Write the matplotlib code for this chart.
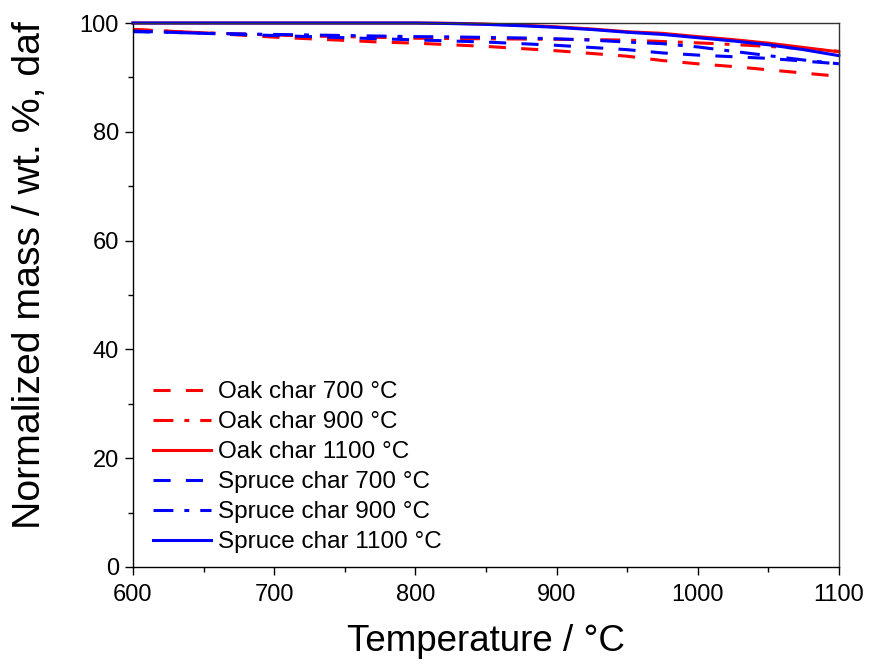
import matplotlib
matplotlib.use("Agg")
import matplotlib.pyplot as plt
from matplotlib.ticker import MultipleLocator

plt.rcParams['font.family'] = ['Liberation Sans', 'DejaVu Sans']

temperature = [600, 625, 650, 675, 700, 725, 750, 775, 800, 825, 850,
               875, 900, 925, 950, 975, 1000, 1025, 1050, 1075, 1100]

oak_700 = [98.8, 98.5, 98.2, 97.8, 97.4, 97.1, 96.8, 96.5, 96.3, 96.0, 95.7,
           95.3, 94.9, 94.4, 93.9, 93.1, 92.5, 92.0, 91.4, 90.8, 90.2]
oak_900 = [98.8, 98.5, 98.2, 98.0, 97.8, 97.6, 97.5, 97.35, 97.2, 97.15, 97.1,
           97.05, 97.0, 96.95, 96.85, 96.6, 96.35, 96.05, 95.7, 95.3, 94.8]
oak_1100 = [100.0, 100.0, 100.0, 100.0, 100.0, 100.0, 100.0, 100.0, 100.0, 99.95, 99.8,
            99.6, 99.3, 98.9, 98.4, 98.1, 97.5, 96.95, 96.3, 95.5, 94.7]
spruce_700 = [98.4, 98.3, 98.1, 97.9, 97.7, 97.5, 97.3, 97.1, 96.9, 96.7, 96.5,
              96.2, 95.9, 95.5, 95.1, 94.5, 94.1, 93.8, 93.5, 93.0, 92.5]
spruce_900 = [98.5, 98.3, 98.1, 98.0, 97.9, 97.8, 97.7, 97.6, 97.5, 97.45, 97.35,
              97.25, 97.1, 96.85, 96.5, 96.2, 95.6, 94.8, 94.0, 93.2, 92.5]
spruce_1100 = [100.0, 100.0, 100.0, 100.0, 100.0, 100.0, 100.0, 100.0, 100.0, 99.9, 99.75,
               99.5, 99.2, 98.8, 98.3, 97.9, 97.3, 96.7, 96.0, 95.1, 94.0]

labels = ["Oak char 700 °C", "Oak char 900 °C", "Oak char 1100 °C",
          "Spruce char 700 °C", "Spruce char 900 °C", "Spruce char 1100 °C"]
series = [oak_700, oak_900, oak_1100, spruce_700, spruce_900, spruce_1100]
colors = ["#ff0000"] * 3 + ["#0000ff"] * 3

dashed = (0, (5.6, 5.0))
dashdot = (0, (6.5, 3.6, 1.6, 3.6))
styles = [dashed, dashdot, "-", dashed, dashdot, "-"]

fig = plt.figure(figsize=(8.72, 6.65), dpi=100)
ax = fig.add_axes([0.1525, 0.1474, 0.8095, 0.818])

for y, lab, c, ls in zip(series, labels, colors, styles):
    ax.plot(temperature, y, color=c, linestyle=ls, linewidth=2.2,
            label=lab, clip_on=False)

ax.set_xlim(600, 1100)
ax.set_ylim(0, 100)
ax.xaxis.set_major_locator(MultipleLocator(100))
ax.xaxis.set_minor_locator(MultipleLocator(50))
ax.yaxis.set_major_locator(MultipleLocator(20))
ax.yaxis.set_minor_locator(MultipleLocator(10))

ax.tick_params(which='both', direction='out', top=False, right=False,
               width=1.0, labelsize=17)
ax.tick_params(which='major', length=6)
ax.tick_params(which='minor', length=3.5)
ax.tick_params(axis='x', pad=6)
ax.tick_params(axis='y', pad=4)

for side in ['left', 'bottom']:
    ax.spines[side].set_linewidth(1.0)
    ax.spines[side].set_color('black')
for side in ['top', 'right']:
    ax.spines[side].set_linewidth(1.0)
    ax.spines[side].set_color('#333333')

ax.set_xlabel("Temperature / °C", fontsize=26.5, labelpad=13)
ax.set_ylabel("Normalized mass / wt. %, daf", fontsize=28.3)
ax.yaxis.set_label_coords(-0.120, 0.537)

ax.legend(loc='lower left', bbox_to_anchor=(0.028, 0.025), frameon=False,
          fontsize=17.5, handlelength=2.4, handletextpad=0.3,
          labelspacing=0.33, borderpad=0, borderaxespad=0)

fig.savefig("out.png", dpi=100)
